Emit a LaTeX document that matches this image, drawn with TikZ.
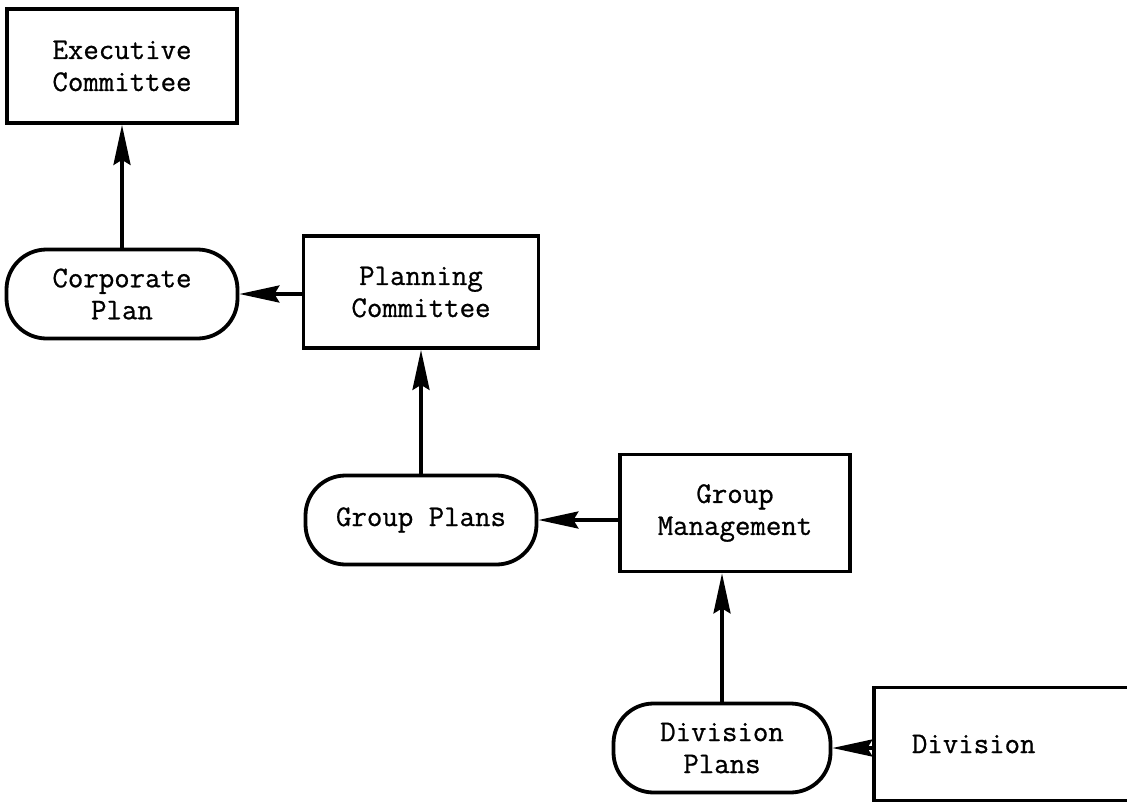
\documentclass[tikz,border=0pt]{standalone}
\usepackage{fontspec}
\newfontfamily\typew{Latin Modern Mono}[FakeBold=0.8]
\usetikzlibrary{arrows.meta}
\begin{document}
\begin{tikzpicture}[x=1pt,y=-1pt,
  every node/.style={font=\typew\fontsize{30}{32}\selectfont, align=center},
  box/.style={draw, line width=3.8pt, minimum width=230pt, minimum height=114pt, inner sep=0pt},
  plan/.style={draw, line width=3.8pt, rounded corners=40pt, minimum width=231pt, minimum height=89pt, inner sep=0pt},
  flow/.style={line width=3.4pt, -{Stealth[length=40pt,width=17pt,inset=5pt]}}]
\useasboundingbox (0,0) rectangle (1127,803);
\fill[white] (0,0) rectangle (1127,803);
\node[box] (exec) at (122,66) {Executive\\Committee};
\node[plan] (corp) at (122,294) {Corporate\\Plan};
\node[box, minimum width=235pt, minimum height=112pt] (pc) at (421,292) {Planning\\Committee};
\node[plan] (gp) at (421,520) {Group Plans};
\node[box, minimum height=117pt] (gm) at (735,513) {Group\\Management};
\node[plan, minimum width=217pt] (dp) at (722,748) {Division\\Plans};
\node[box, anchor=west, minimum height=113pt, text width=200pt, align=left, inner xsep=38pt] (div) at (872,744) {Division};
\draw[flow] (corp.north) -- (exec.south);
\draw[flow] (pc.west |- corp.east) -- (corp.east);
\draw[flow] (gp.north) -- (pc.south);
\draw[flow] (gm.west |- gp.east) -- (gp.east);
\draw[flow] (dp.north) -- (dp.north |- gm.south);
\draw[flow] (div.west |- dp.east) -- (dp.east);
\end{tikzpicture}
\end{document}
